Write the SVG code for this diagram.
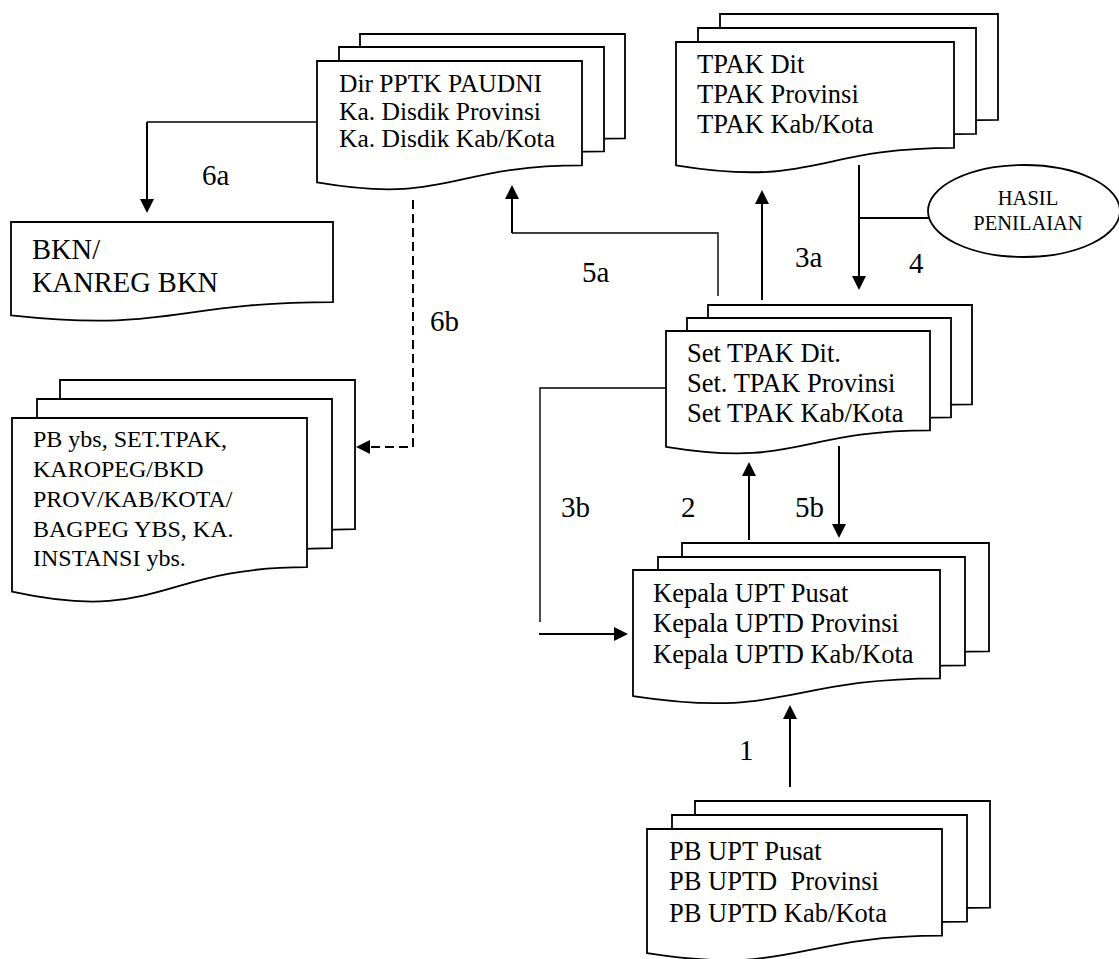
<svg xmlns="http://www.w3.org/2000/svg" width="1119" height="959" viewBox="0 0 1119 959">
<style>
.doc{fill:#fff;stroke:#000;stroke-width:1.8;stroke-linejoin:miter}
.t{font-family:"Liberation Serif","Times New Roman",serif;font-size:26.5px;fill:#000}
.lbl{font-family:"Liberation Serif","Times New Roman",serif;font-size:29px;fill:#000}
.c{fill:none;stroke:#000;stroke-width:2}
.thin{fill:none;stroke:#000;stroke-width:1.4}
.dash{fill:none;stroke:#000;stroke-width:2;stroke-dasharray:9 5}
</style>
<defs>
<marker id="ah" viewBox="0 0 14 14" markerWidth="14" markerHeight="14" markerUnits="userSpaceOnUse" refX="8" refY="7" orient="auto">
<path d="M0,0 L14,7 L0,14 Z" fill="#000" stroke="none"/>
</marker>
</defs>

<g id="dir-pptk">
<path class="doc" d="M360 34 H625 V138.3 C492.5 138.3 492.5 177.9 360 155.4 Z"/>
<path class="doc" d="M339 47 H604 V151.3 C471.5 151.3 471.5 190.9 339 168.4 Z"/>
<path class="doc" d="M317 61 H582 V165.3 C449.5 165.3 449.5 204.9 317 182.4 Z"/>
<text class="t" style="font-size:25.5px" x="339" y="92">Dir PPTK PAUDNI</text>
<text class="t" style="font-size:25.5px" x="339" y="120">Ka. Disdik Provinsi</text>
<text class="t" style="font-size:25.5px" x="339" y="147">Ka. Disdik Kab/Kota</text>
</g>

<g id="tpak">
<path class="doc" d="M720 14 H998 V119.9 C859 119.9 859 160.1 720 137.3 Z"/>
<path class="doc" d="M698 28 H976 V133.9 C837 133.9 837 174.1 698 151.3 Z"/>
<path class="doc" d="M676 42 H954 V147.9 C815 147.9 815 188.1 676 165.3 Z"/>
<text class="t" x="697" y="73">TPAK Dit</text>
<text class="t" x="697" y="103">TPAK Provinsi</text>
<text class="t" x="697" y="133">TPAK Kab/Kota</text>
</g>

<g id="hasil">
<ellipse cx="1024" cy="211" rx="96" ry="46" fill="#fff" stroke="#000" stroke-width="1.8"/>
<text class="t" style="font-size:20.5px" x="1028" y="205" text-anchor="middle">HASIL</text>
<text class="t" style="font-size:20.5px" x="1028" y="230" text-anchor="middle">PENILAIAN</text>
</g>

<g id="bkn">
<path class="doc" d="M11 222 H333 V302.2 C172 302.2 172 332.7 11 315.4 Z"/>
<text class="t" style="font-size:28.5px" x="32" y="259">BKN/</text>
<text class="t" style="font-size:28.5px" x="32" y="292">KANREG BKN</text>
</g>

<g id="pb-ybs">
<path class="doc" d="M60 380 H355 V529.2 C207.5 529.2 207.5 585.9 60 553.7 Z"/>
<path class="doc" d="M37 399 H332 V548.2 C184.5 548.2 184.5 604.9 37 572.7 Z"/>
<path class="doc" d="M12 418 H307 V567.2 C159.5 567.2 159.5 623.9 12 591.7 Z"/>
<text class="t" style="font-size:24px" x="33" y="447">PB ybs, SET.TPAK,</text>
<text class="t" style="font-size:24px" x="33" y="477">KAROPEG/BKD</text>
<text class="t" style="font-size:24px" x="33" y="507">PROV/KAB/KOTA/</text>
<text class="t" style="font-size:24px" x="33" y="537">BAGPEG YBS, KA.</text>
<text class="t" style="font-size:24px" x="33" y="566">INSTANSI ybs.</text>
</g>

<g id="set-tpak">
<path class="doc" d="M708 305 H972 V404.4 C840 404.4 840 442.3 708 420.8 Z"/>
<path class="doc" d="M687 318 H951 V417.4 C819 417.4 819 455.3 687 433.8 Z"/>
<path class="doc" d="M666 331 H930 V430.4 C798 430.4 798 468.3 666 446.8 Z"/>
<text class="t" x="687" y="362">Set TPAK Dit.</text>
<text class="t" x="687" y="392">Set. TPAK Provinsi</text>
<text class="t" x="687" y="422">Set TPAK Kab/Kota</text>
</g>

<g id="kepala">
<path class="doc" d="M682 543 H989 V651.3 C835.5 651.3 835.5 692.4 682 669.1 Z"/>
<path class="doc" d="M658 557 H965 V665.3 C811.5 665.3 811.5 706.4 658 683.1 Z"/>
<path class="doc" d="M633 570 H940 V678.3 C786.5 678.3 786.5 719.4 633 696.1 Z"/>
<text class="t" x="653" y="602">Kepala UPT Pusat</text>
<text class="t" x="653" y="632">Kepala UPTD Provinsi</text>
<text class="t" x="653" y="663">Kepala UPTD Kab/Kota</text>
</g>

<g id="pb-upt">
<path class="doc" d="M695 801 H990 V907.7 C842.5 907.7 842.5 948.2 695 925.2 Z"/>
<path class="doc" d="M672 815 H967 V921.7 C819.5 921.7 819.5 962.2 672 939.2 Z"/>
<path class="doc" d="M647 829 H942 V935.7 C794.5 935.7 794.5 976.2 647 953.2 Z"/>
<text class="t" x="669" y="860">PB UPT Pusat</text>
<text class="t" x="669" y="890" xml:space="preserve">PB UPTD  Provinsi</text>
<text class="t" x="669" y="922">PB UPTD Kab/Kota</text>
</g>

<g id="connectors">
<path class="thin" d="M317 122 H147"/>
<path class="c" d="M147 122 V207" marker-end="url(#ah)"/>
<path class="dash" d="M413 200 V447 H362" marker-end="url(#ah)"/>
<path class="thin" d="M718 296 V233 H512"/>
<path class="c" d="M512 233 V191" marker-end="url(#ah)"/>
<path class="c" d="M762 300 V196" marker-end="url(#ah)"/>
<path class="c" d="M859 165 V284" marker-end="url(#ah)"/>
<path class="c" d="M859 218 H929"/>
<path class="thin" d="M666 388 H540 V622"/>
<path class="c" d="M539 634 H622" marker-end="url(#ah)"/>
<path class="c" d="M749 540 V468" marker-end="url(#ah)"/>
<path class="c" d="M839 446 V532" marker-end="url(#ah)"/>
<path class="c" d="M790 787 V711" marker-end="url(#ah)"/>
</g>

<g id="labels">
<text class="lbl" x="202" y="185">6a</text>
<text class="lbl" x="582" y="282">5a</text>
<text class="lbl" x="795" y="267">3a</text>
<text class="lbl" x="909" y="273">4</text>
<text class="lbl" x="430" y="331">6b</text>
<text class="lbl" x="561" y="517">3b</text>
<text class="lbl" x="681" y="517">2</text>
<text class="lbl" x="795" y="517">5b</text>
<text class="lbl" x="739" y="760">1</text>
</g>
</svg>
